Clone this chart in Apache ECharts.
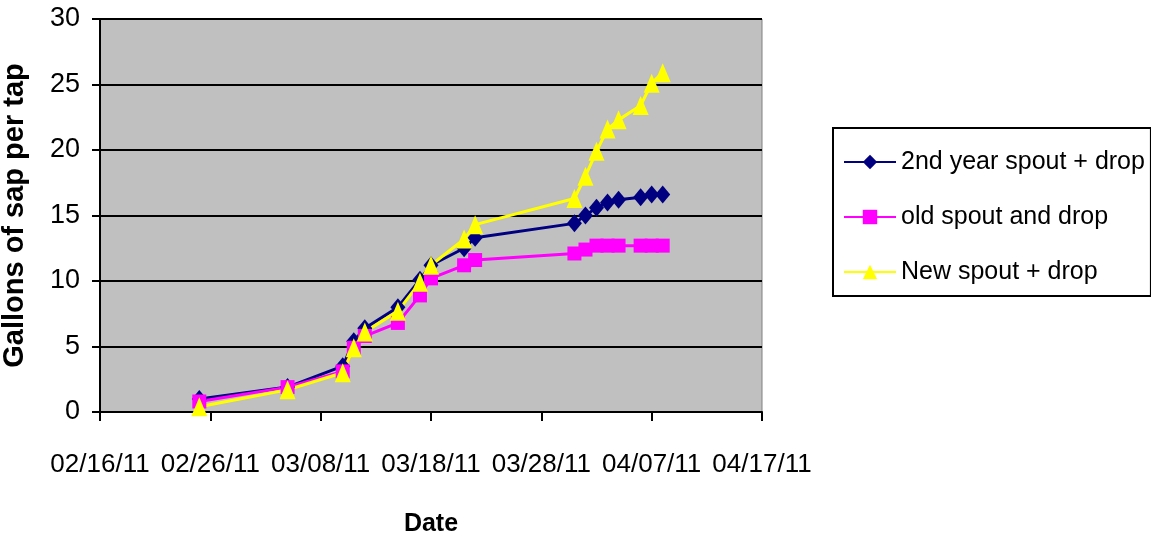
<!DOCTYPE html>
<html>
<head>
<meta charset="utf-8">
<script src="https://cdn.jsdelivr.net/npm/echarts@6/dist/echarts.min.js"></script>
<style>
  html, body { margin: 0; padding: 0; background: #fff; }
  #chart { width: 1151px; height: 541px; }
</style>
</head>
<body>
<div id="chart"></div>
<script>
// sample dates (MM/DD/YY)
var dates = ['02/25/11', '03/05/11', '03/10/11', '03/11/11', '03/12/11', '03/15/11',
             '03/17/11', '03/18/11', '03/21/11', '03/22/11', '03/31/11', '04/01/11',
             '04/02/11', '04/03/11', '04/04/11', '04/06/11', '04/07/11', '04/08/11'];

// gallons of sap per tap
var secondYear = [1.0, 1.9, 3.5, 5.4, 6.4, 8.0, 10.1, 11.2, 12.5, 13.3, 14.4, 15.0, 15.6, 16.0, 16.2, 16.4, 16.6, 16.6];
var oldSpout   = [0.8, 1.9, 3.1, 4.9, 5.8, 6.8, 8.9, 10.2, 11.2, 11.6, 12.1, 12.4, 12.7, 12.7, 12.7, 12.7, 12.7, 12.7];
var newSpout   = [0.4, 1.7, 3.0, 4.9, 6.1, 7.7, 9.9, 11.2, 13.2, 14.3, 16.3, 18.0, 19.9, 21.6, 22.3, 23.4, 25.1, 25.9];

var seriesNames = ['2nd year spout + drop', 'old spout and drop', 'New spout + drop'];

// x axis runs 02/16/11 .. 04/17/11, one tick every 10 days
var axisStart = '02/16/11';
var axisDays = 60;

var DAY = 86400000;
function parseDate(s) {
    var p = s.split('/');
    return Date.UTC(2000 + (+p[2]), +p[0] - 1, +p[1]);
}
function pad(n) { return (n < 10 ? '0' : '') + n; }
var base = parseDate(axisStart);
function dayOf(s) { return Math.round((parseDate(s) - base) / DAY); }
function fmtDay(v) {
    var d = new Date(base + v * DAY);
    return pad(d.getUTCMonth() + 1) + '/' + pad(d.getUTCDate()) + '/' + pad(d.getUTCFullYear() % 100);
}
function pairs(vals) {
    return dates.map(function (s, i) { return [dayOf(s), vals[i]]; });
}

var sans = "'Liberation Sans', Arial, sans-serif";

var option = {
    animation: false,
    backgroundColor: '#fff',
    grid: {
        left: 100,
        right: 389,
        top: 19,
        bottom: 129,
        containLabel: false,
        outerBoundsMode: 'none',
        show: true,
        backgroundColor: '#c0c0c0',
        borderColor: '#808080',
        borderWidth: 1
    },
    legend: {
        orient: 'vertical',
        left: 833,
        top: 128,
        data: seriesNames,
        itemWidth: 52,
        itemHeight: 18,
        itemGap: 25,
        padding: [19, 6, 9, 10],
        borderColor: '#000',
        borderWidth: 2,
        textStyle: { fontFamily: sans, fontSize: 25, color: '#000', lineHeight: 30 }
    },
    xAxis: {
        type: 'value',
        min: 0,
        max: axisDays,
        interval: 10,
        name: 'Date',
        nameLocation: 'middle',
        nameGap: 100,
        nameTextStyle: { fontFamily: sans, fontSize: 25, fontWeight: 'bold', color: '#000' },
        axisLine: { lineStyle: { color: '#000', width: 2 } },
        axisTick: { show: true, length: 9, lineStyle: { color: '#000', width: 2 } },
        axisLabel: {
            margin: 40,
            fontFamily: sans,
            fontSize: 26,
            color: '#000',
            showMinLabel: true,
            showMaxLabel: true,
            hideOverlap: false,
            formatter: fmtDay
        },
        splitLine: { show: false }
    },
    yAxis: {
        type: 'value',
        min: 0,
        max: 30,
        interval: 5,
        name: 'Gallons of sap per tap',
        nameLocation: 'middle',
        nameRotate: 90,
        nameGap: 71,
        nameTextStyle: { fontFamily: sans, fontSize: 29, fontWeight: 'bold', color: '#000' },
        axisLine: { show: true, lineStyle: { color: '#000', width: 2 } },
        axisTick: { show: true, length: 8, lineStyle: { color: '#000', width: 2 } },
        axisLabel: { margin: 20, fontFamily: sans, fontSize: 27, color: '#000' },
        splitLine: { show: true, lineStyle: { color: '#000', width: 2 } }
    },
    series: [
        {
            name: seriesNames[0],
            type: 'line',
            data: pairs(secondYear),
            symbol: 'diamond',
            symbolSize: [15, 18],
            color: '#000080',
            lineStyle: { width: 3, color: '#000080' },
            itemStyle: { color: '#000080' }
        },
        {
            name: seriesNames[1],
            type: 'line',
            data: pairs(oldSpout),
            symbol: 'rect',
            symbolSize: 14,
            color: '#ff00ff',
            lineStyle: { width: 3, color: '#ff00ff' },
            itemStyle: { color: '#ff00ff' }
        },
        {
            name: seriesNames[2],
            type: 'line',
            data: pairs(newSpout),
            symbol: 'triangle',
            symbolSize: [16, 19],
            color: '#ffff00',
            lineStyle: { width: 3, color: '#ffff00' },
            itemStyle: { color: '#ffff00' }
        }
    ]
};

var myChart = echarts.init(document.getElementById('chart'));
myChart.setOption(option);
window.addEventListener('resize', function () {
    myChart.resize();
});
</script>
</body>
</html>
